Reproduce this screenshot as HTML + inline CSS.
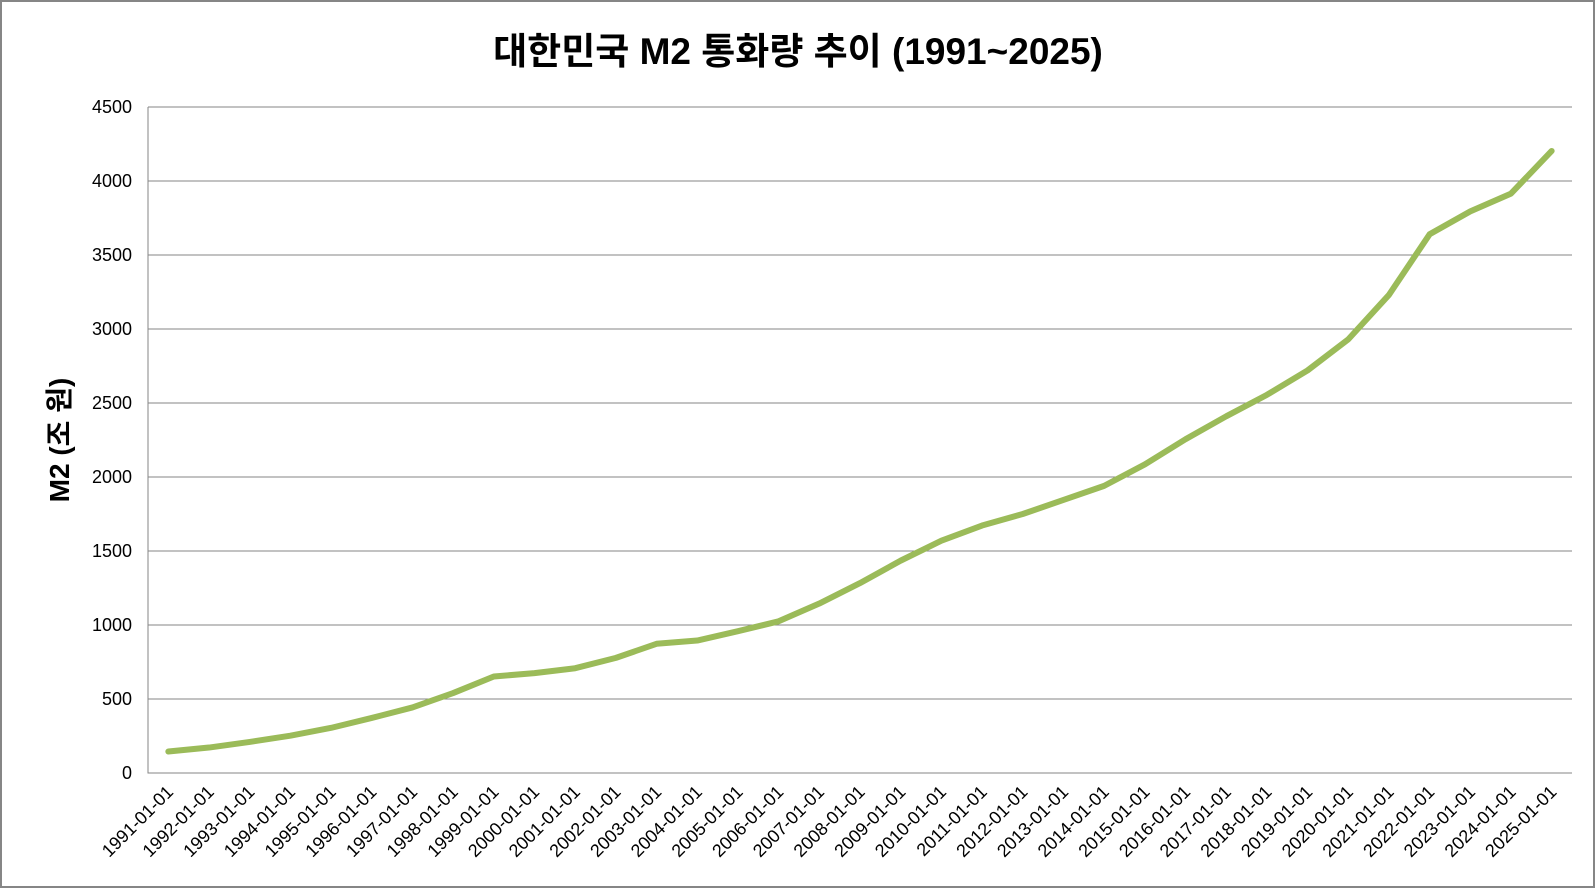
<!DOCTYPE html>
<html><head><meta charset="utf-8"><style>
html,body{margin:0;padding:0;background:#fff;}
svg{display:block;font-family:"Liberation Sans","Noto Sans CJK KR",sans-serif;}
</style></head><body>
<svg id="chart" width="1595" height="888" viewBox="0 0 1595 888">
<rect x="1" y="1" width="1593" height="886" fill="#fff" stroke="#868686" stroke-width="2"/>
<text x="798" y="64" text-anchor="middle" font-size="37" font-weight="bold" fill="#000">대한민국 M2 통화량 추이 (1991~2025)</text>
<text transform="translate(69,440) rotate(-90)" text-anchor="middle" font-size="28" font-weight="bold" fill="#000">M2 (조 원)</text>
<g id="grid"></g><g id="yticks"></g><g id="xticks"></g><g id="series"></g>
</svg>
<script>
const categories = ["1991-01-01","1992-01-01","1993-01-01","1994-01-01","1995-01-01","1996-01-01","1997-01-01","1998-01-01","1999-01-01","2000-01-01","2001-01-01","2002-01-01","2003-01-01","2004-01-01","2005-01-01","2006-01-01","2007-01-01","2008-01-01","2009-01-01","2010-01-01","2011-01-01","2012-01-01","2013-01-01","2014-01-01","2015-01-01","2016-01-01","2017-01-01","2018-01-01","2019-01-01","2020-01-01","2021-01-01","2022-01-01","2023-01-01","2024-01-01","2025-01-01"];
const m2Values = [145,172,210,252,305,372,443,540,652,675,708,778,873,895,958,1025,1145,1283,1435,1570,1672,1750,1845,1940,2085,2255,2410,2555,2720,2930,3230,3640,3795,3915,4203];
const yTicks = [0,500,1000,1500,2000,2500,3000,3500,4000,4500];

const NS="http://www.w3.org/2000/svg";
const L=148,R=1572,T=107,B=773,yMax=4500;
const yS=v=>B-(v/yMax)*(B-T);
const bw=(R-L)/categories.length;
const xS=i=>L+bw*(i+0.5);
function mk(tag,attrs,parent){const e=document.createElementNS(NS,tag);for(const k in attrs)e.setAttribute(k,attrs[k]);parent.appendChild(e);return e;}
const grid=document.getElementById('grid'),yt=document.getElementById('yticks'),xt=document.getElementById('xticks'),ser=document.getElementById('series');
yTicks.forEach(v=>{
  if(v>0){const g=mk('line',{x1:L,x2:R,y1:yS(v),y2:yS(v),stroke:'#868686','stroke-width':1},grid);
  
  }
  const t=mk('text',{x:132,y:yS(v)+6,'text-anchor':'end','font-size':18,fill:'#000'},yt);
  t.textContent=v;
  
  
});
const ax=mk('path',{d:`M${L},${T} L${L},${B} L${R},${B}`,fill:'none',stroke:'#868686','stroke-width':1},grid);


categories.forEach((c,i)=>{
  const x=xS(i)+6,y=B+20;
  const t=mk('text',{x:x,y:y,'text-anchor':'end','font-size':18,fill:'#000',transform:`rotate(-45 ${x} ${y})`},xt);
  t.textContent=c;
  
  
});
const p=mk('polyline',{points:m2Values.map((v,i)=>xS(i)+','+yS(v)).join(' '),fill:'none',stroke:'#9bbb59','stroke-width':6,'stroke-linecap':'round','stroke-linejoin':'round'},ser);


</script>
</body></html>
